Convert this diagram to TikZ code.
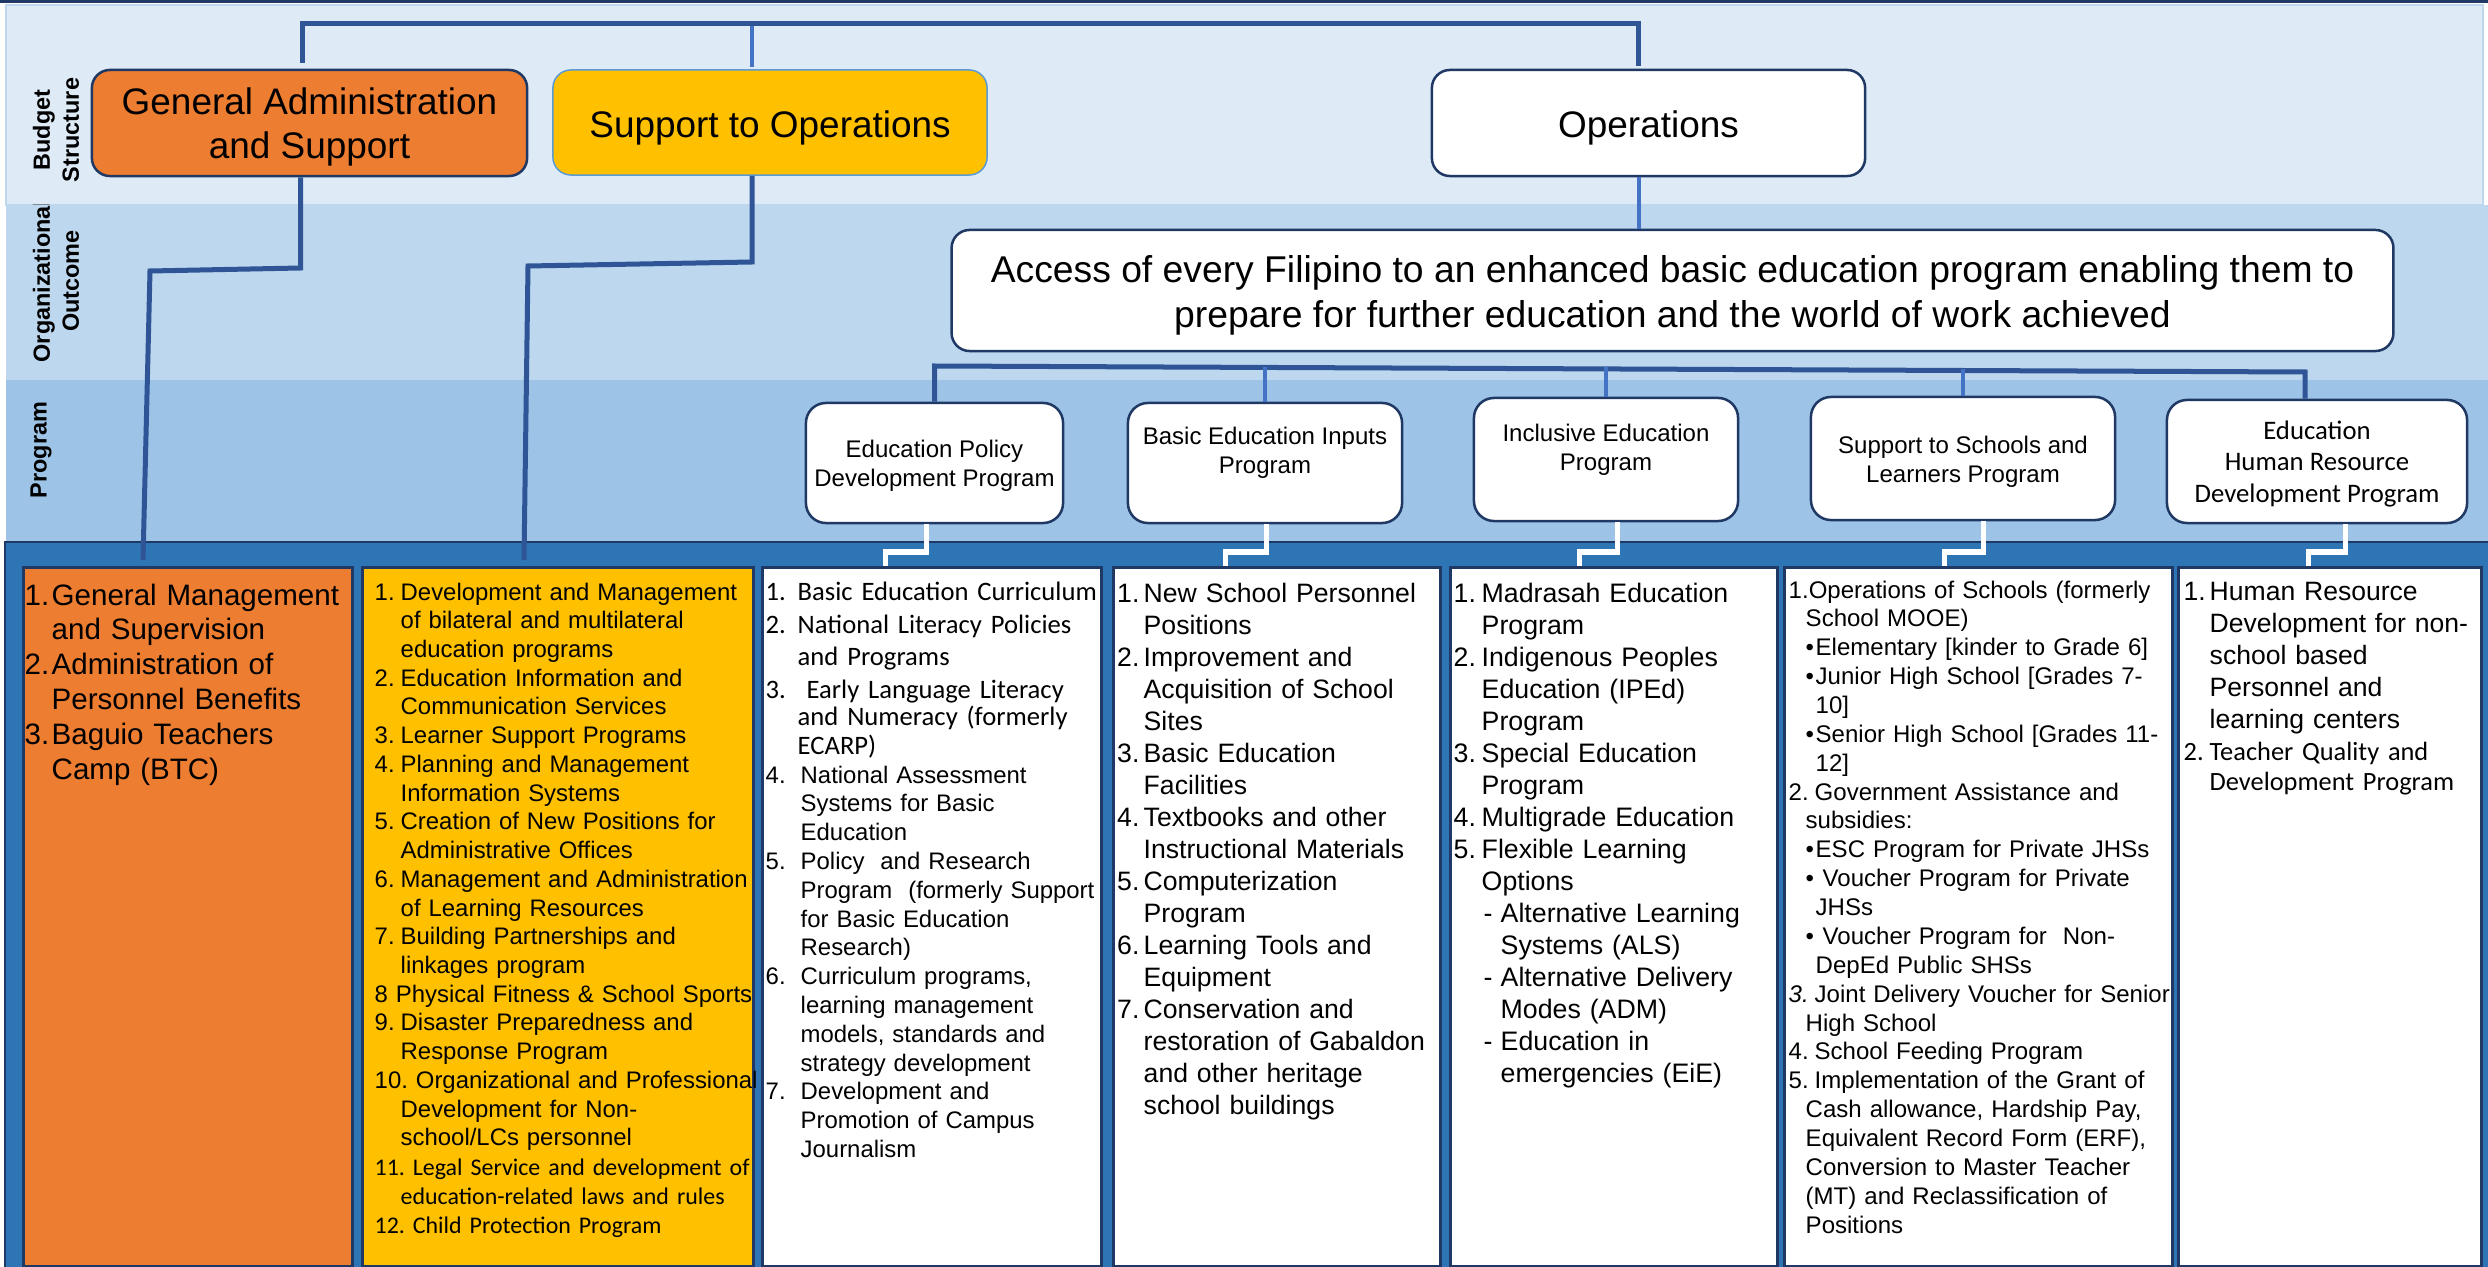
\documentclass[tikz,border=0pt]{standalone}
\usepackage{fontspec}
\setmainfont{Liberation Sans}
\newfontfamily\carlito{Carlito}
\usetikzlibrary{calc}
\frenchspacing
\newlength\pxu
\setlength\pxu{0.01cm}
\newcommand\myfs[2]{\fontsize{#1pt}{#2pt}\selectfont}
\newcommand\mynb[2]{\makebox[#1\pxu][l]{#2}}
\newcommand\myind[1]{\hspace*{#1\pxu}}
\definecolor{navy}{HTML}{1F3864}
\definecolor{connc}{HTML}{2F5597}
\definecolor{connl}{HTML}{4472C4}
\definecolor{bandA}{HTML}{DEEBF7}
\definecolor{bandB}{HTML}{BDD7EE}
\definecolor{bandC}{HTML}{9DC3E6}
\definecolor{bandD}{HTML}{2E75B6}
\definecolor{orng}{HTML}{ED7D31}
\definecolor{gold}{HTML}{FFC000}
\definecolor{sky}{HTML}{5B9BD5}
\tikzset{
  topbox/.style={draw=navy, line width=0.025cm, rounded corners=0.18cm, inner sep=0pt},
  toptxt/.style={align=center, inner sep=0pt, font=\myfs{10.5}{12.4}},
  progbox/.style={draw=navy, fill=white, line width=0.025cm, rounded corners=0.2cm, inner sep=0pt},
  progtxt/.style={align=center, inner sep=0pt, font=\myfs{6.83}{8.14}},
  colbox/.style={draw=navy, line width=0.025cm, inner sep=0pt, anchor=north west},
  listtxt/.style={anchor=base west, inner sep=0pt, align=left},
  lbl/.style={rotate=90, align=center, inner sep=0pt, font=\bfseries\myfs{6.66}{8.25}},
  conn/.style={draw=connc, line width=0.05cm},
  connlt/.style={draw=connl, line width=0.04cm},
  wconn/.style={draw=white, line width=0.05cm},
}
\begin{document}
\begin{tikzpicture}[x=0.01cm, y=-0.01cm]
\useasboundingbox (0,0) rectangle (2488,1267);
% bands
\fill[navy] (0,0) rectangle (2488,3.5);
\fill[bandB] (6,205) rectangle (2488,380);
\fill[bandC] (6,380) rectangle (2488,542);
\filldraw[fill=bandA, draw=bandB, line width=0.02cm] (6,5.5) rectangle (2483,205);
\filldraw[fill=bandD, draw=navy, line width=0.025cm] (5,542) rectangle (2492,1272);

% row labels
\node[lbl] (lbudget) at (56,130) {Budget\\Structure};
\begin{scope}
\clip (6,205) rectangle (2488,380);
\node[lbl] (loutcome) at (56,281) {Organizational\\Outcome};
\end{scope}
\node[lbl] (lprogram) at (41,450) {Program};

% budget structure boxes
\node[topbox, fill=orng, minimum width=4.35cm, minimum height=1.06cm] (ga) at (309.5,123) {};
\node[topbox, fill=gold, draw=sky, line width=0.015cm, minimum width=4.34cm, minimum height=1.05cm] (sto) at (770,122.5) {};
\node[topbox, fill=white, minimum width=4.33cm, minimum height=1.06cm] (ops) at (1648.5,123) {};
\node[toptxt] (gat) at (309.5,127) {General Administration\\and Support};
\node[toptxt] (stot) at (770,127.5) {Support to Operations};
\node[toptxt] (opst) at (1648.5,128) {Operations};

% outcome
\node[topbox, fill=white, minimum width=14.41cm, minimum height=1.21cm] (oc) at (1672.5,290.5) {};
\node[toptxt, font=\myfs{10.6}{12.8}] (oct) at (1672.5,295.5)
 {Access of every Filipino to an enhanced basic education program enabling them to\\prepare for further education and the world of work achieved};

% program boxes
\node[progbox, minimum width=2.57cm, minimum height=1.20cm] (p1) at (934.5,463) {};
\node[progbox, minimum width=2.74cm, minimum height=1.20cm] (p2) at (1265,463) {};
\node[progbox, minimum width=2.64cm, minimum height=1.23cm] (p3) at (1606,459.5) {};
\node[progbox, minimum width=3.04cm, minimum height=1.23cm] (p4) at (1963,458.5) {};
\node[progbox, minimum width=3.00cm, minimum height=1.23cm] (p5) at (2317,461.5) {};
\node[progtxt] (p1t) at (934.5,466) {Education Policy\\Development Program};
\node[progtxt] (p2t) at (1265,452.5) {Basic Education Inputs\\Program};
\node[progtxt] (p3t) at (1606,450) {Inclusive Education\\Program};
\node[progtxt] (p4t) at (1963,462) {Support to Schools and\\Learners Program};
\node[progtxt, font=\carlito\myfs{7.6}{9}] (p5t) at (2317,464) {Education\\Human Resource\\Development Program};

% columns
\node[colbox, fill=orng, minimum width=3.29cm, minimum height=6.99cm] (c1) at (22,566) {};
\node[colbox, fill=gold, minimum width=3.91cm, minimum height=6.99cm] (c2) at (361,566) {};
\node[colbox, fill=white, minimum width=3.39cm, minimum height=6.99cm] (c3) at (761,566) {};
\node[colbox, fill=white, minimum width=3.27cm, minimum height=6.99cm] (c4) at (1112,566) {};
\node[colbox, fill=white, minimum width=3.27cm, minimum height=6.99cm] (c5) at (1449,566) {};
\node[colbox, fill=white, minimum width=3.88cm, minimum height=6.99cm] (c6) at (1783,566) {};
\node[colbox, fill=white, minimum width=3.03cm, minimum height=6.99cm] (c7) at (2177,566) {};

% column 1
\node[listtxt, text width=3.3cm, font=\myfs{8.4}{9.9}] (c1t) at (24,605) {%
\mynb{27}{1.}General Management\\
\myind{27}and Supervision\\
\mynb{27}{2.}Administration of\\
\myind{27}Personnel Benefits\\
\mynb{27}{3.}Baguio Teachers\\
\myind{27}Camp (BTC)};

% column 2
\node[listtxt, text width=4.2cm, font=\myfs{6.8}{8.17}] (c2t) at (374,600) {%
\mynb{26}{1.}Development and Management\\
\myind{26}of bilateral and multilateral\\
\myind{26}education programs\\
\mynb{26}{2.}Education Information and\\
\myind{26}Communication Services\\
\mynb{26}{3.}Learner Support Programs\\
\mynb{26}{4.}Planning and Management\\
\myind{26}Information Systems\\
\mynb{26}{5.}Creation of New Positions for\\
\myind{26}Administrative Offices\\
\mynb{26}{6.}Management and Administration\\
\myind{26}of Learning Resources\\
\mynb{26}{7.}Building Partnerships and\\
\myind{26}linkages program\\
8 Physical Fitness \& School Sports\\
\mynb{26}{9.}Disaster Preparedness and\\
\myind{26}Response Program\\
10. Organizational and Professional\\
\myind{26}Development for Non-\\
\myind{26}school/LCs personnel};
\node[listtxt, text width=4.2cm, font=\carlito\myfs{6.8}{8.25}] (c2u) at (374,1175) {%
11. Legal Service and development of\\
\myind{26}education-related laws and rules\\
12. Child Protection Program};

% column 3
\node[listtxt, text width=3.6cm, font=\carlito\myfs{7.57}{8.25}] (c3t) at (765,600) {%
\mynb{32}{1.}Basic Education Curriculum\\[4\pxu]
\mynb{32}{2.}National Literacy Policies\\[3\pxu]
\myind{32}and Programs\\[4\pxu]
\mynb{32}{3.}\ Early Language Literacy\\[-2\pxu]
\myind{32}and Numeracy (formerly\\
\myind{32}ECARP)};
\node[listtxt, text width=3.6cm, font=\myfs{6.8}{8.19}] (c3u) at (765,783) {%
\mynb{35}{4.}National Assessment\\
\myind{35}Systems for Basic\\
\myind{35}Education\\
\mynb{35}{5.}Policy\ \ and Research\\
\myind{35}Program\ \ (formerly Support\\
\myind{35}for Basic Education\\
\myind{35}Research)\\
\mynb{35}{6.}Curriculum programs,\\
\myind{35}learning management\\
\myind{35}models, standards and\\
\myind{35}strategy development\\
\mynb{35}{7.}Development and\\
\myind{35}Promotion of Campus\\
\myind{35}Journalism};

% column 4
\node[listtxt, text width=3.4cm, font=\myfs{7.57}{9.1}] (c4t) at (1116.5,602.6) {%
\mynb{26.5}{1.}New School Personnel\\
\myind{26.5}Positions\\
\mynb{26.5}{2.}Improvement and\\
\myind{26.5}Acquisition of School\\
\myind{26.5}Sites\\
\mynb{26.5}{3.}Basic Education\\
\myind{26.5}Facilities\\
\mynb{26.5}{4.}Textbooks and other\\
\myind{26.5}Instructional Materials\\
\mynb{26.5}{5.}Computerization\\
\myind{26.5}Program\\
\mynb{26.5}{6.}Learning Tools and\\
\myind{26.5}Equipment\\
\mynb{26.5}{7.}Conservation and\\
\myind{26.5}restoration of Gabaldon\\
\myind{26.5}and other heritage\\
\myind{26.5}school buildings};

% column 5
\node[listtxt, text width=3.4cm, font=\myfs{7.6}{9.1}] (c5t) at (1453,602.6) {%
\mynb{28}{1.}Madrasah Education\\
\myind{28}Program\\
\mynb{28}{2.}Indigenous Peoples\\
\myind{28}Education (IPEd)\\
\myind{28}Program\\
\mynb{28}{3.}Special Education\\
\myind{28}Program\\
\mynb{28}{4.}Multigrade Education\\
\mynb{28}{5.}Flexible Learning\\
\myind{28}Options\\
\myind{30}\mynb{17}{-}Alternative Learning\\
\myind{47}Systems (ALS)\\
\myind{30}\mynb{17}{-}Alternative Delivery\\
\myind{47}Modes (ADM)\\
\myind{30}\mynb{17}{-}Education in\\
\myind{47}emergencies (EiE)};

% column 6
\node[listtxt, text width=4cm, font=\myfs{6.83}{8.21}] (c6t) at (1788,598) {%
1.Operations of Schools (formerly\\
\myind{17}School MOOE)\\
\myind{17}\mynb{10}{•}Elementary [kinder to Grade 6]\\
\myind{17}\mynb{10}{•}Junior High School [Grades 7-\\
\myind{27}10]\\
\myind{17}\mynb{10}{•}Senior High School [Grades 11-\\
\myind{27}12]\\
\mynb{26}{2.}Government Assistance and\\
\myind{17}subsidies:\\
\myind{17}\mynb{10}{•}ESC Program for Private JHSs\\
\myind{17}\mynb{17}{•}Voucher Program for Private\\
\myind{27}JHSs\\
\myind{17}\mynb{17}{•}Voucher Program for\ \ Non-\\
\myind{27}DepEd Public SHSs\\
\mynb{26}{\textit{3.}}Joint Delivery Voucher for Senior\\
\myind{17}High School\\
\mynb{26}{4.}School Feeding Program\\
\mynb{26}{5.}Implementation of the Grant of\\
\myind{17}Cash allowance, Hardship Pay,\\
\myind{17}Equivalent Record Form (ERF),\\
\myind{17}Conversion to Master Teacher\\
\myind{17}(MT) and Reclassification of\\
\myind{17}Positions};

% column 7
\node[listtxt, text width=3.1cm, font=\myfs{7.55}{9.1}] (c7t) at (2183,600) {%
\mynb{26}{1.}Human Resource\\
\myind{26}Development for non-\\
\myind{26}school based\\
\myind{26}Personnel and\\
\myind{26}learning centers};
\node[listtxt, text width=3.1cm, font=\carlito\myfs{7.5}{8.6}] (c7u) at (2183,760) {%
\mynb{26}{2.}Teacher Quality and\\
\myind{26}Development Program};

% connectors: budget structure
\coordinate (tb) at (0,24);
\coordinate (gaT) at ($(ga.north)+(-7,-6)$);
\coordinate (opsT) at ($(ops.north)+(-10,-3)$);
\coordinate (stoT) at ($(sto.north)+(-18,-2)$);
\draw[conn] (gaT) -- (gaT |- tb) -- (opsT |- tb) -- (opsT);
\draw[connlt] (stoT) -- ($(stoT |- tb)+(0,2)$);

\coordinate (gaB) at ($(ga.south)+(-9,0)$);
\draw[conn] (gaB) -- (300.5,268) -- (150,271) -- ($(c1.north west)+(121,-6)$);
\coordinate (stoB) at ($(sto.south)+(-18,0)$);
\draw[conn] (stoB) -- (752,262) -- (528,266) -- ($(c2.north west)+(163,-6)$);

\coordinate (opsB) at ($(ops.south)+(-10,0)$);
\draw[connlt] (opsB) -- (opsB |- oc.north);

% outcome to programs
\draw[conn] (p1.north) -- (934.5,366) -- (2305,372) -- ($(p5.north)+(-12,0)$);
\draw[connlt] (p2.north) -- ++(0,-35);
\draw[connlt] (p3.north) -- ++(0,-30);
\draw[connlt] (p4.north) -- ++(0,-27);

% programs to columns
\draw[wconn] ($(p1.south)+(-8,0)$) |- (885,552) -- ($(c3.north west)+(124,0)$);
\draw[wconn] ($(p2.south)+(1,0)$) |- (1225,552) -- ($(c4.north west)+(113,0)$);
\draw[wconn] ($(p3.south)+(11,0)$) |- (1579,552) -- ($(c5.north west)+(130,0)$);
\draw[wconn] ($(p4.south)+(20,0)$) |- (1944,552) -- ($(c6.north west)+(161,0)$);
\draw[wconn] ($(p5.south)+(28,0)$) |- (2308,552) -- ($(c7.north west)+(131,0)$);
\end{tikzpicture}
\end{document}
